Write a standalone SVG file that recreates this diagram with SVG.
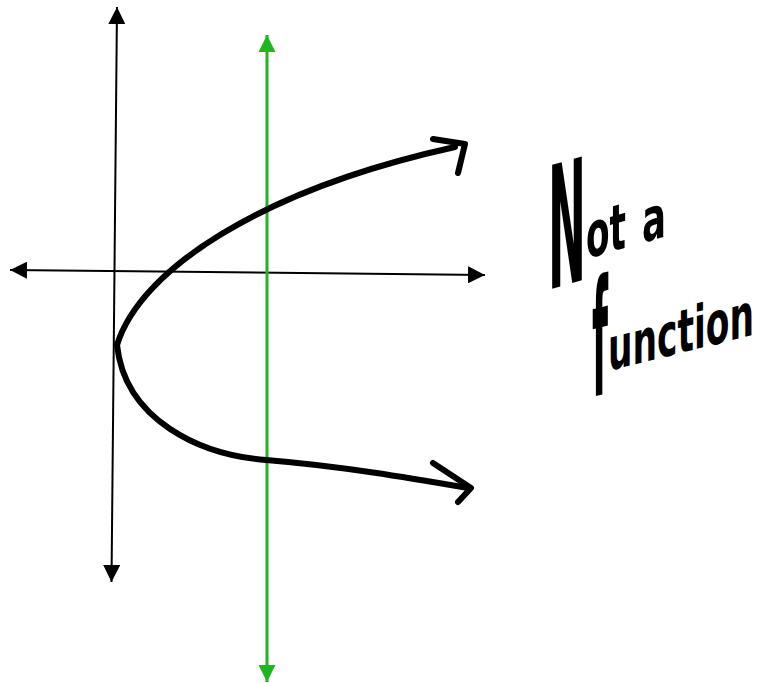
<svg xmlns="http://www.w3.org/2000/svg" width="760" height="683" viewBox="0 0 760 683">
<defs>
<marker id="ab" markerUnits="userSpaceOnUse" markerWidth="17" markerHeight="17" viewBox="0 0 16 16" refX="16" refY="8" orient="auto-start-reverse"><path d="M0,0 L16,8 L0,16 Z" fill="#000"/></marker>
<marker id="ag" markerUnits="userSpaceOnUse" markerWidth="17" markerHeight="17" viewBox="0 0 16 16" refX="16" refY="8" orient="auto-start-reverse"><path d="M0,0 L16,8 L0,16 Z" fill="#1fb51f"/></marker>
</defs>
<style>
.ax{stroke:#000;stroke-width:2;fill:none}
.gr{stroke:#1fb51f;stroke-width:3;fill:none}
.cv{stroke:#000;stroke-width:6;fill:none;stroke-linecap:round;stroke-linejoin:round}
.hw{font-family:"DejaVu Sans Condensed","DejaVu Sans",sans-serif;font-weight:bold;fill:#000}
</style>
<g id="connectors">
<path class="ax" d="M117,7 L111.5,582" marker-start="url(#ab)" marker-end="url(#ab)"/>
<path class="ax" d="M10,270 L485,275" marker-start="url(#ab)" marker-end="url(#ab)"/>
<path class="gr" d="M267,35 L267,682" marker-start="url(#ag)" marker-end="url(#ag)"/>
</g>
<g id="curve">
<path class="cv" d="M455,147 C260,190 140,270 117,345 C125,420 200,455 266,460 C340,466 410,478 468,488"/>
<path class="cv" d="M433,139 L465,144 L458,173"/>
<path class="cv" d="M433,463 L471,488 L458,502"/>
</g>
<g id="label">
<text class="hw" transform="translate(548,290) skewY(-16) scale(1,2)"><tspan font-size="85" textLength="38" lengthAdjust="spacingAndGlyphs">N</tspan><tspan font-size="32" dy="-10" textLength="40" lengthAdjust="spacingAndGlyphs">ot</tspan><tspan font-size="30" dx="16" textLength="24" lengthAdjust="spacingAndGlyphs">a</tspan></text>
<text class="hw" transform="translate(592,375) skewY(-14) scale(1,2)"><tspan font-size="80" dy="11" textLength="16" lengthAdjust="spacingAndGlyphs">f</tspan><tspan font-size="30" dy="-11" textLength="146" lengthAdjust="spacingAndGlyphs">unction</tspan></text>
</g>
</svg>
